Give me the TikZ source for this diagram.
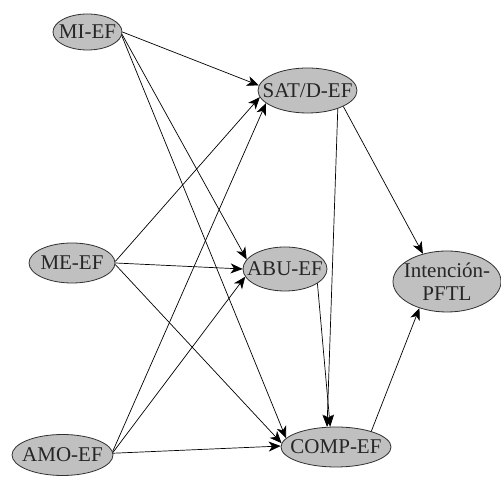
\documentclass[tikz,border=0pt]{standalone}
\usepackage{fontspec}
\setmainfont{Liberation Serif}
\usetikzlibrary{shapes.geometric,arrows.meta}
\definecolor{nodefill}{HTML}{C0C0C0}
\definecolor{nodeline}{HTML}{303030}
\begin{document}
\begin{tikzpicture}[x=1pt,y=1pt,
  var/.style={ellipse, draw=nodeline, line width=0.8pt, fill=nodefill, inner sep=0pt},
  lab/.style={font=\fontsize{21}{23.5}\selectfont, text=black!85, align=center, inner sep=0pt},
  link/.style={line width=0.7pt, -{Stealth[length=12pt,width=10pt,inset=3.5pt]}}]
\useasboundingbox (0,0) rectangle (501,497);
\node[var, minimum width=69, minimum height=36, label={[lab]center:MI-EF}] (mi) at (87.5,465) {};
\node[var, minimum width=99, minimum height=45, label={[lab]center:SAT/D-EF}] (sat) at (307.5,406.5) {};
\node[var, minimum width=86, minimum height=40, label={[lab]center:ME-EF}] (me) at (72,234) {};
\node[var, minimum width=84, minimum height=44, label={[lab]center:ABU-EF}] (abu) at (285,228) {};
\node[var, minimum width=108, minimum height=61, label={[lab]center:Intención-\\PFTL}] (int) at (447,215.5) {};
\node[var, minimum width=101, minimum height=41, label={[lab]center:AMO-EF}] (amo) at (62.5,42) {};
\node[var, minimum width=110, minimum height=40, label={[lab]center:COMP-EF}] (comp) at (336,50) {};

\draw[link] (mi.east) -- (sat.174);
\draw[link] (mi.-4) -- (abu.166);
\draw[link] (mi.-6) -- (comp.170);
\draw[link] (me.2) -- (sat.188);
\draw[link] (me.east) -- (abu.180);
\draw[link] (me.-2) -- (comp.176);
\draw[link] (amo.4) -- (sat.197);
\draw[link] (amo.3) -- (abu.191);
\draw[link] (amo.2) -- (comp.179);
\draw[link] (sat.-31) -- (comp.114);
\draw[link] (abu.-24) -- (comp.106);
\draw[link] (sat.-24) -- (int.131);
\draw[link] (comp.24) -- (int.224);
\end{tikzpicture}
\end{document}
